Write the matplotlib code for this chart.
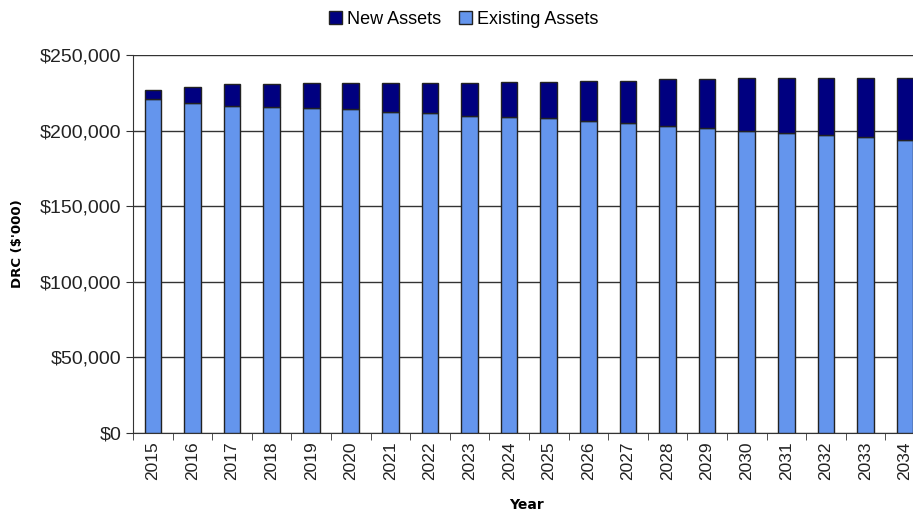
import matplotlib.pyplot as plt
import matplotlib.ticker as ticker
import numpy as np

years = [str(y) for y in range(2015, 2035)]
# values in $'000
existing = [220900, 218500, 216500, 215800, 215000, 214100, 212500, 211600, 209900, 209000,
            208100, 206600, 205000, 203300, 201500, 200000, 198200, 197300, 195600, 193800]
total = [226900, 229000, 230600, 230600, 231300, 231300, 231300, 231300, 231300, 232400,
         232400, 233000, 233000, 233900, 233900, 234800, 234800, 234800, 234800, 234800]
new = [t - e for t, e in zip(total, existing)]

plt.rcParams['font.family'] = ['Liberation Sans', 'DejaVu Sans']

fig = plt.figure(figsize=(9.13, 5.15), dpi=100)
ax = fig.add_axes([0.1457, 0.1592, 0.8543, 0.734])

x = np.arange(len(years))
ax.bar(x, existing, width=0.42, color='#6495ED', edgecolor='#222222', linewidth=1,
       label='Existing Assets', zorder=3)
ax.bar(x, new, bottom=existing, width=0.42, color='#000080', edgecolor='#222222', linewidth=1,
       label='New Assets', zorder=3)

ax.yaxis.set_major_locator(ticker.MultipleLocator(50000))
ax.yaxis.set_major_formatter(ticker.FuncFormatter(lambda v, p: '${:,.0f}'.format(v)))
ax.grid(axis='y', color='#333333', linewidth=1, zorder=0)

ax.set_xticks(x)
ax.set_xticklabels(years, rotation=90, fontsize=12.5, color='#222222')
ax.set_xticks(np.arange(-0.5, 20, 1), minor=True)
ax.tick_params(axis='x', which='major', length=0, pad=6)
ax.tick_params(axis='x', which='minor', length=5, color='#333333')
ax.tick_params(axis='y', length=5, color='#333333', labelsize=14, labelcolor='#222222')

# limits after the ticks, the chart is cut off at the right
ax.set_ylim(0, 250000)
ax.set_xlim(-0.5, 19.2)

for s in ['top', 'right']:
    ax.spines[s].set_visible(False)
for s in ['left', 'bottom']:
    ax.spines[s].set_color('#333333')

ax.set_xlabel('Year', family='DejaVu Sans', fontweight='bold', fontsize=10)
ax.xaxis.set_label_coords(0.505, -0.172)
ax.set_ylabel("DRC ($'000)", family='DejaVu Sans', fontweight='bold', fontsize=9.5)
ax.yaxis.set_label_coords(-0.14, 0.5)

h, l = ax.get_legend_handles_labels()
fig.legend(h[::-1], l[::-1], loc='upper center', bbox_to_anchor=(0.508, 1.01), ncol=2,
           frameon=False, fontsize=13, handlelength=0.7, handleheight=0.7,
           handletextpad=0.3, columnspacing=1.0)

fig.savefig('out.png', dpi=100)
